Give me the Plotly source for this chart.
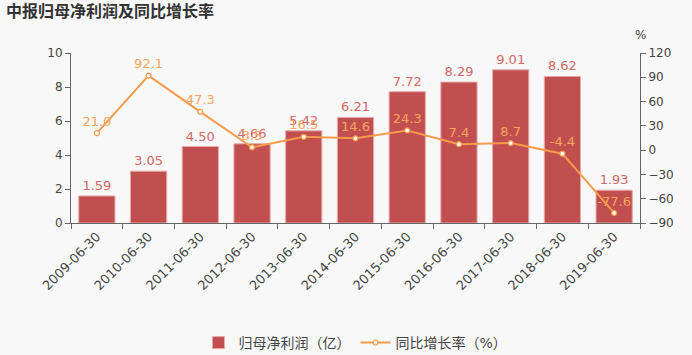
import plotly.graph_objects as go

categories = ["2009-06-30", "2010-06-30", "2011-06-30", "2012-06-30", "2013-06-30",
              "2014-06-30", "2015-06-30", "2016-06-30", "2017-06-30", "2018-06-30", "2019-06-30"]
profit = [1.59, 3.05, 4.50, 4.66, 5.42, 6.21, 7.72, 8.29, 9.01, 8.62, 1.93]
growth = [21.0, 92.1, 47.3, 3.5, 16.5, 14.6, 24.3, 7.4, 8.7, -4.4, -77.6]

title_text = "中报归母净利润及同比增长率"
bar_name = "归母净利润（亿）"
line_name = "同比增长率（%）"

FONT = "DejaVu Sans, Noto Sans CJK SC, sans-serif"

fig = go.Figure()
fig.add_trace(go.Bar(
    x=categories, y=profit, name=bar_name,
    marker=dict(color="#c14f4f", line=dict(color="#e7a9a9", width=1)),
    text=[f"{v:.2f}" for v in profit], textposition="outside",
    textfont=dict(color="#d46666", size=13, family=FONT),
    cliponaxis=False,
))
fig.add_trace(go.Scatter(
    x=categories, y=growth, name=line_name, yaxis="y2",
    mode="lines+markers+text",
    line=dict(color="#f79a4c", width=2),
    marker=dict(symbol="circle", size=5, color="white", line=dict(color="#f79a4c", width=1.2)),
    text=[f"{v:.1f}" for v in growth], textposition="top center",
    textfont=dict(color="#f7a55e", size=13, family=FONT),
    cliponaxis=False,
))

fig.update_layout(
    width=692, height=355,
    margin=dict(l=71, r=52, t=53, b=132, autoexpand=False),
    paper_bgcolor="#f8f8f8", plot_bgcolor="#f8f8f8",
    font=dict(family=FONT, color="#444", size=11),
    bargap=0.3,
    showlegend=True,
    legend=dict(orientation="h", x=0.5, xanchor="center", yref="container", y=12 / 355, yanchor="middle",
                font=dict(size=14, color="#444"), bgcolor="rgba(0,0,0,0)", itemwidth=30),
    xaxis=dict(type="category", range=[-0.5, len(categories) - 0.5],
               tickangle=-45, tickson="boundaries", automargin=False,
               ticks="outside", ticklen=5, tickcolor="#666",
               showline=True, linecolor="#666", linewidth=1,
               showgrid=False, tickfont=dict(size=13, color="#444")),
    yaxis=dict(range=[0, 10], dtick=2, ticks="outside", ticklen=5, tickcolor="#666", automargin=False,
               showline=True, linecolor="#666", linewidth=1, showgrid=False, zeroline=False,
               tickfont=dict(size=12, color="#444")),
    yaxis2=dict(range=[-90, 120], dtick=30, overlaying="y", side="right", automargin=False,
                ticks="outside", ticklen=5, tickcolor="#666",
                showline=True, linecolor="#666", linewidth=1, showgrid=False, zeroline=False,
                tickfont=dict(size=12, color="#444")),
)
fig.add_annotation(text="<b>" + title_text + "</b>", xref="paper", yref="paper",
                   x=-67 / 569, y=1 + 42 / 170, xanchor="left", yanchor="middle",
                   showarrow=False, font=dict(size=16, color="#333", family=FONT))
fig.add_annotation(text="%", xref="paper", yref="paper",
                   x=1, y=1 + 18 / 170, xanchor="center", yanchor="middle",
                   showarrow=False, font=dict(size=12, color="#444", family=FONT))

post = ("document.documentElement.style.margin='0';"
        "document.body.style.margin='0';document.body.style.padding='0';"
        "document.body.style.overflow='hidden';"
        "document.body.style.background='#f8f8f8';")

fig.write_html("out.html", post_script=post, config={"responsive": False, "displayModeBar": False})
